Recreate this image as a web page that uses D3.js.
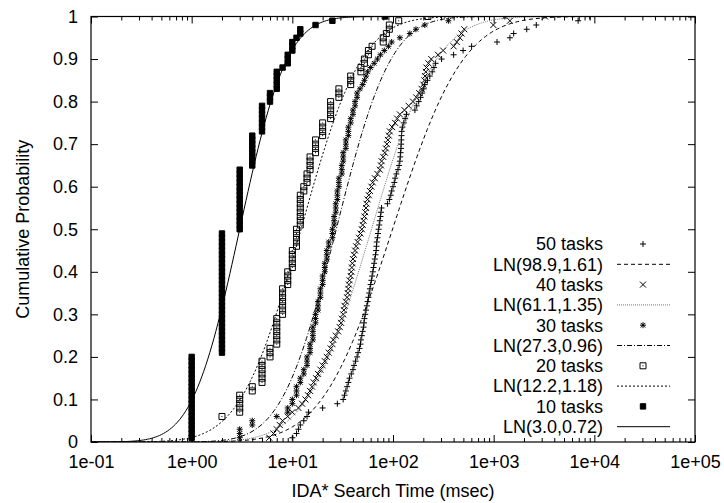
<!DOCTYPE html>
<html>
<head>
<meta charset="utf-8">
<script src="https://cdn.jsdelivr.net/npm/d3@7"></script>
<style>
  body { margin: 0; background: #fff; }
  text { font-family: "Liberation Sans", Arial, Helvetica, sans-serif; }
</style>
</head>
<body>
<div id="chart"></div>
<script>
// series labels, in plot order
var taskLabels = ['50 tasks', '40 tasks', '30 tasks', '20 tasks', '10 tasks'];
var fitLabels = ['LN(98.9,1.61)', 'LN(61.1,1.35)', 'LN(27.3,0.96)', 'LN(12.2,1.18)', 'LN(3.0,0.72)'];
var fitMedian = [98.9, 61.1, 27.3, 12.2, 3.0];
var fitVar = [1.61, 1.35, 0.96, 1.18, 0.72];

var xTicks = [1e-1, 1e0, 1e1, 1e2, 1e3, 1e4, 1e5];
var yTicks = [0, 0.1, 0.2, 0.3, 0.4, 0.5, 0.6, 0.7, 0.8, 0.9, 1];

// search times (msec), sorted; 100 runs per task count
var times50 = [10, 11, 11.5, 12, 13, 14, 14.5, 20, 28, 32,
    33, 34, 35, 36, 37, 38.5, 40, 41, 42.5, 44,
    45, 46.5, 47.5, 48, 49, 50, 51, 51.5, 52, 53,
    54, 55, 56, 57, 58, 59, 60, 61, 62, 63,
    64, 65, 66, 67, 68, 68.5, 69, 70, 71, 72,
    73, 74, 75, 76, 77, 88, 92, 95, 97, 100,
    103, 105, 108, 112, 115, 117, 118, 119, 120, 120.5,
    121, 121.5, 122, 124, 128, 132, 136, 165, 172, 180,
    188, 195, 202, 207, 220, 232, 245, 255, 265, 304,
    400, 497, 604, 1080, 1450, 1580, 2130, 2650, 6900, 9000];

var times40 = [5.9, 6.5, 7, 7.5, 8, 9, 10, 11.5, 12.5, 13.5,
    14.3, 15, 15.7, 16.3, 17.2, 18, 19, 20, 21, 22,
    23, 24, 25, 25.5, 27, 28.5, 29.6, 30.5, 31, 32,
    32.5, 33, 34, 35, 35.5, 36, 36.5, 37, 38, 38.5,
    39, 39.5, 40, 41, 42, 43, 44.5, 46, 47.5, 49,
    50, 51, 52, 53, 54, 54.5, 56, 57.5, 59, 61,
    63, 66, 70, 74, 76, 77, 80, 83, 85, 87,
    89, 91, 93, 98, 105, 110, 117, 130, 143, 158,
    170, 182, 192, 200, 205, 208, 212, 215, 225, 240,
    280, 315, 400, 430, 462, 480, 510, 993, 1450, 3240];

// [time, number of runs] for the coarser timings
var runs30 = [[3, 3], [4, 2], [7, 1], [9, 2], [10, 2], [11, 3], [12, 2], [13, 2], [14, 3],
    [15, 3], [16, 4], [17, 3], [18, 3], [19, 3], [20, 3], [21, 3], [22, 3], [23, 2],
    [25, 3], [26, 3], [27, 3], [28, 3], [29, 3], [31, 3], [32, 3], [34, 3], [36, 3],
    [38, 2], [40, 2], [42, 2], [44, 2], [47, 1], [50, 1], [52, 1], [54, 1], [56, 1],
    [60, 1], [65, 1], [70, 1], [75, 1], [82, 1], [90, 1], [97, 1], [117, 1], [147, 1],
    [169, 1], [207, 1], [355, 1], [1290, 1]];

var runs20 = [[0, 5], [2, 1], [3, 5], [4, 2], [5, 6], [6, 3], [7, 7], [8, 7], [9, 4],
    [10, 5], [11, 5], [12, 8], [13, 2], [14, 3], [15, 4], [17, 4], [20, 4], [24, 5],
    [29, 3], [38, 3], [48, 2], [52, 2], [57, 2], [62, 1], [80, 2], [86, 1], [92, 2],
    [114, 1], [222, 1]];

var runs10 = [[1, 20], [2, 29], [3, 15], [4, 8], [5, 7], [6, 3], [7, 5], [8, 1], [9, 3],
    [10, 3], [11, 1], [12, 2], [17, 1], [25, 1], [83, 1]];

function expand(runs) {
    var out = [];
    runs.forEach(function (r) {
        for (var k = 0; k < r[1]; k++) out.push(r[0]);
    });
    return out;
}

var allTimes = [times50, times40, expand(runs30), expand(runs20), expand(runs10)];

var width = 724, height = 503;
var margin = {left: 91, right: 29, top: 16.5, bottom: 61};

var svg = d3.select('#chart').append('svg')
    .attr('width', width)
    .attr('height', height);

svg.append('rect').attr('width', width).attr('height', height).attr('fill', '#fff');

var x = d3.scaleLog()
    .domain([1e-1, 1e5])
    .range([margin.left, width - margin.right]);
var y = d3.scaleLinear()
    .domain([0, 1])
    .range([height - margin.bottom, margin.top]);

svg.append('clipPath').attr('id', 'plotclip')
    .append('rect')
    .attr('x', margin.left).attr('y', margin.top)
    .attr('width', x.range()[1] - margin.left)
    .attr('height', y(0) - margin.top);

// minor ticks at 2..9 of each decade, drawn in from both frame sides
var minorTicks = [];
for (var e = -1; e < 5; e++) {
    for (var m = 2; m < 10; m++) minorTicks.push(m * Math.pow(10, e));
}

function fmtExp(d) {
    var p = Math.round(Math.log10(d));
    return '1e' + (p < 0 ? '-' : '+') + String(Math.abs(p)).padStart(2, '0');
}

var xAxisB = d3.axisBottom(x).tickValues(xTicks).tickFormat(fmtExp).tickSize(-7).tickPadding(13);
var xAxisT = d3.axisTop(x).tickValues(xTicks).tickFormat('').tickSize(-7);
var xMinorB = d3.axisBottom(x).tickValues(minorTicks).tickFormat('').tickSize(-4);
var xMinorT = d3.axisTop(x).tickValues(minorTicks).tickFormat('').tickSize(-4);
var yAxisL = d3.axisLeft(y).tickValues(yTicks).tickFormat(d3.format('')).tickSize(-7).tickPadding(13);
var yAxisR = d3.axisRight(y).tickValues(yTicks).tickFormat('').tickSize(-7);

function styleAxis(g) {
    g.select('.domain').remove();
    g.selectAll('line').attr('stroke', '#000').attr('stroke-width', 1);
    g.selectAll('text').attr('font-size', 18).attr('fill', '#000')
        .style('font-family', '"Liberation Sans", Arial, sans-serif');
}

svg.append('g').attr('transform', 'translate(0,' + y(0) + ')').call(xMinorB).call(styleAxis);
svg.append('g').attr('transform', 'translate(0,' + y(1) + ')').call(xMinorT).call(styleAxis);
svg.append('g').attr('transform', 'translate(0,' + y(0) + ')').call(xAxisB).call(styleAxis);
svg.append('g').attr('transform', 'translate(0,' + y(1) + ')').call(xAxisT).call(styleAxis);
svg.append('g').attr('transform', 'translate(' + x.range()[0] + ',0)').call(yAxisL).call(styleAxis);
svg.append('g').attr('transform', 'translate(' + x.range()[1] + ',0)').call(yAxisR).call(styleAxis);

svg.append('text')
    .attr('x', (x.range()[0] + x.range()[1]) / 2)
    .attr('y', 497)
    .attr('text-anchor', 'middle')
    .attr('font-size', 18)
    .text('IDA* Search Time (msec)');

svg.append('text')
    .attr('transform', 'translate(29,' + ((y(0) + y(1)) / 2) + ') rotate(-90)')
    .attr('text-anchor', 'middle')
    .attr('font-size', 18)
    .text('Cumulative Probability');

// point symbols, gnuplot style
var symbols = [
    'M-3,0H3M0,-3V3',
    'M-3,-3L3,3M-3,3L3,-3',
    'M-3,0H3M0,-3V3M-2.3,-2.3L2.3,2.3M-2.3,2.3L2.3,-2.3',
    'M-3,-3H3V3H-3ZM-0.5,0H0.5',
    'M-2.7,-2.7H2.7V2.7H-2.7Z'
];
var symFill = ['none', 'none', 'none', 'none', '#000'];
var dashes = ['4,3', '1,1', '5,2,1,2', '2,2', null];
var lineColor = ['#000', '#777', '#000', '#000', '#000'];

// normal cdf (Abramowitz & Stegun 7.1.26)
function phi(z) {
    var t = 1 / (1 + 0.3275911 * Math.abs(z) / Math.SQRT2);
    var erf = 1 - t * (0.254829592 + t * (-0.284496736 + t * (1.421413741 + t * (-1.453152027 + t * 1.061405429)))) * Math.exp(-z * z / 2);
    return z >= 0 ? 0.5 * (1 + erf) : 0.5 * (1 - erf);
}

var samplesX = d3.range(-1, 5.0001, 0.02).map(function (p) { return Math.pow(10, p); });

var line = d3.line()
    .x(function (d) { return x(d[0]); })
    .y(function (d) { return y(d[1]); });

var plot = svg.append('g').attr('clip-path', 'url(#plotclip)');

for (var i = 0; i < taskLabels.length; i++) {
    var n = allTimes[i].length;
    var pts = allTimes[i].map(function (t, k) { return [t, (k + 1) / n]; })
        .filter(function (d) { return d[0] > 0; });

    var g = plot.append('g').attr('class', 'series' + i);
    g.selectAll('path.pt')
        .data(pts)
        .enter()
        .append('path')
        .attr('class', 'pt')
        .attr('transform', function (d) { return 'translate(' + x(d[0]) + ',' + y(d[1]) + ')'; })
        .attr('d', symbols[i])
        .attr('fill', symFill[i])
        .attr('stroke', '#000')
        .attr('stroke-width', 1);

    var sd = Math.sqrt(fitVar[i]);
    var med = fitMedian[i];
    var curve = samplesX.map(function (t) { return [t, phi(Math.log(t / med) / sd)]; });
    g.append('path')
        .attr('fill', 'none')
        .attr('stroke', lineColor[i])
        .attr('stroke-width', 1)
        .attr('stroke-dasharray', dashes[i])
        .attr('d', line(curve));
}

// legend
var legendRight = 603, legendTop = 244, rowH = 20.3;
var legend = svg.append('g');
for (var j = 0; j < taskLabels.length; j++) {
    var ry = legendTop + 2 * j * rowH;
    legend.append('text').attr('x', legendRight).attr('y', ry).attr('dy', '0.35em')
        .attr('text-anchor', 'end').attr('font-size', 18).text(taskLabels[j]);
    legend.append('path')
        .attr('transform', 'translate(643,' + ry + ')')
        .attr('d', symbols[j]).attr('fill', symFill[j]).attr('stroke', '#000');
    var ly = ry + rowH;
    legend.append('text').attr('x', legendRight).attr('y', ly).attr('dy', '0.35em')
        .attr('text-anchor', 'end').attr('font-size', 18).text(fitLabels[j]);
    legend.append('line')
        .attr('x1', 617).attr('x2', 670).attr('y1', ly).attr('y2', ly)
        .attr('stroke', lineColor[j]).attr('stroke-dasharray', dashes[j]);
}

// frame
svg.append('rect')
    .attr('x', x.range()[0]).attr('y', y(1))
    .attr('width', x.range()[1] - x.range()[0])
    .attr('height', y(0) - y(1))
    .attr('fill', 'none')
    .attr('stroke', '#000')
    .attr('stroke-width', 1.2);
</script>
</body>
</html>
